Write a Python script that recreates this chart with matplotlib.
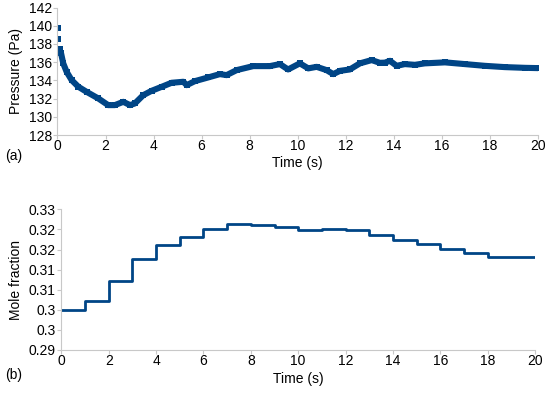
import matplotlib
matplotlib.use("Agg")
import matplotlib.pyplot as plt
from matplotlib.ticker import FuncFormatter

plt.rcParams['font.family'] = ['Liberation Sans', 'DejaVu Sans']

# (a) pressure
t_start = [0.01, 0.03, 0.09]
p_start = [139.7, 138.5, 137.45]
t_press = [0.15, 0.24, 0.38, 0.59, 0.87, 1.21, 1.70, 2.11, 2.39, 2.74, 3.02, 3.22,
           3.57, 3.92, 4.34, 4.75, 5.24, 5.38, 5.72, 6.28, 6.76, 7.04, 7.46, 8.15,
           8.84, 9.26, 9.60, 10.09, 10.44, 10.79, 11.20, 11.48, 11.76, 12.17, 12.59,
           13.08, 13.42, 13.63, 13.84, 14.12, 14.46, 14.88, 15.29, 16.13, 16.96,
           17.79, 18.62, 19.46, 20.0]
p_press = [136.97, 135.87, 134.95, 134.03, 133.3, 132.75, 132.02, 131.29, 131.29,
           131.65, 131.29, 131.47, 132.38, 132.86, 133.3, 133.74, 133.85, 133.48,
           133.92, 134.33, 134.69, 134.58, 135.13, 135.57, 135.57, 135.79, 135.2,
           135.87, 135.32, 135.49, 135.13, 134.69, 135.05, 135.2, 135.87, 136.23,
           135.93, 135.95, 136.15, 135.6, 135.79, 135.71, 135.87, 135.98, 135.79,
           135.6, 135.46, 135.38, 135.35]

# (b) mole fraction, one level per second
t_mole = list(range(0, 21))
x_mole = [0.3000, 0.3023, 0.3071, 0.3127, 0.3162, 0.3182, 0.3202, 0.3213, 0.3210,
          0.3205, 0.3198, 0.3201, 0.3199, 0.3186, 0.3174, 0.3164, 0.3152, 0.3142,
          0.3132, 0.3131]

blue = '#004586'
grey = '#c8c8c8'

fig = plt.figure(figsize=(5.5, 3.95), dpi=100)
ax1 = fig.add_axes([0.1045, 0.658, 0.8735, 0.323])
ax2 = fig.add_axes([0.1116, 0.114, 0.8611, 0.356])

ax1.plot(t_start, p_start, 's', color=blue, ms=4.0, mew=0)
ax1.plot(t_press, p_press, '-s', color=blue, lw=4.4, ms=4.0, mew=0,
         solid_joinstyle='round', solid_capstyle='round')
ax1.set_xlim(0, 20)
ax1.set_ylim(128, 142)
ax1.set_xticks(range(0, 21, 2))
ax1.set_yticks(range(128, 143, 2))
ax1.set_ylabel('Pressure (Pa)', fontsize=10)
ax1.set_xlabel('Time (s)', fontsize=10, labelpad=2)

ax2.step(t_mole, x_mole + [x_mole[-1]], where='post', color=blue, lw=2.0)
ax2.set_xlim(0, 20)
ax2.set_ylim(0.29, 0.325)
ax2.set_xticks(range(0, 21, 2))
ax2.set_yticks([0.29, 0.295, 0.30, 0.305, 0.31, 0.315, 0.32, 0.325])
ax2.yaxis.set_major_formatter(FuncFormatter(lambda v, p: f"{round(v + 1e-9, 2):g}"))
ax2.set_ylabel('Mole fraction', fontsize=10)
ax2.set_xlabel('Time (s)', fontsize=10, labelpad=3)

for ax in (ax1, ax2):
    for s in ('top', 'right'):
        ax.spines[s].set_visible(False)
    for s in ('left', 'bottom'):
        ax.spines[s].set_color(grey)
        ax.spines[s].set_linewidth(0.8)
    ax.tick_params(colors=grey, labelcolor='black', labelsize=10, length=3, width=0.8, pad=1)
    ax.tick_params(axis='x', pad=0)

fig.text(0.01, 0.595, '(a)', fontsize=10)
fig.text(0.01, 0.04, '(b)', fontsize=10)

fig.savefig('out.png', dpi=100)
